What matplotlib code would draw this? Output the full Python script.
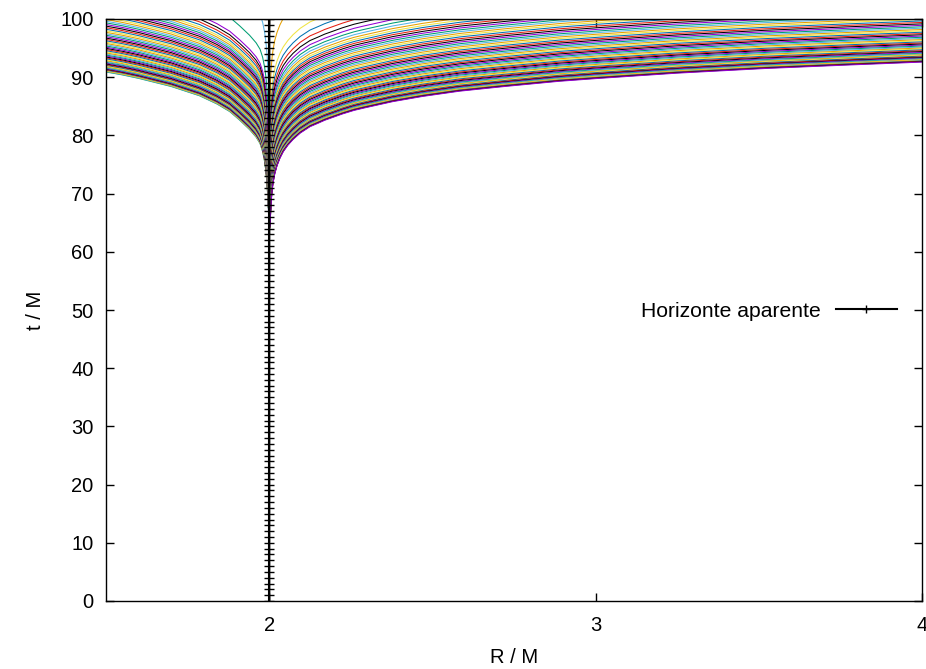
import numpy as np
import matplotlib
matplotlib.use("Agg")
import matplotlib.pyplot as plt

# lowest ray outside the horizon (R > 2)
R_OUT = [2.000001, 2.000003, 2.00001, 2.00003, 2.0001, 2.0003, 2.001, 2.002,
         2.003, 2.004, 2.006, 2.009, 2.012, 2.017, 2.024, 2.033, 2.043, 2.057,
         2.073, 2.095, 2.125, 2.15, 2.17, 2.2, 2.225, 2.26, 2.29, 2.33,
         2.378, 2.47, 2.583, 2.72, 2.888, 3.01, 3.25, 3.52, 3.775, 4.0]
T_OUT = [20.5, 26.5, 33.2, 39.2, 45.8, 51.9, 58.5, 62.3,
         64.5, 66.3, 68.6, 70.6, 71.9, 73.4, 74.8, 76.1, 77.2, 78.3,
         79.3, 80.4, 81.5, 82.1, 82.6, 83.2, 83.7, 84.3, 84.7, 85.2,
         85.8, 86.7, 87.6, 88.4, 89.3, 89.8, 90.7, 91.5, 92.1, 92.6]

# lowest ray inside the horizon (R < 2)
R_IN = [1.5, 1.55, 1.6, 1.65, 1.7, 1.787, 1.84, 1.879, 1.91, 1.94, 1.96,
        1.972, 1.98, 1.986, 1.99, 1.994, 1.997, 1.999, 1.9997, 1.9999,
        1.99997, 1.99999, 1.999997, 1.999999]
T_IN = [90.9, 90.4, 89.8, 89.1, 88.4, 86.8, 85.4, 84.1, 82.6, 81.0, 79.7,
        78.6, 77.2, 75.5, 73.8, 71.2, 67.6, 62.5, 57.0, 51.5,
        46.0, 40.5, 35.0, 29.5]

# shift in t of every ray above the lowest one, bottom ray first
SHIFT_OUT = [0.0, 0.07, 0.14, 0.22, 0.31, 0.40, 0.49, 0.58, 0.69, 0.79,
             0.90, 1.02, 1.14, 1.26, 1.39, 1.52, 1.66, 1.80, 1.95, 2.10,
             2.26, 2.42, 2.58, 2.75, 2.92, 3.10, 3.28, 3.47, 3.66, 3.86,
             4.06, 4.26, 4.47, 4.69, 4.90, 5.13, 5.36, 5.59, 5.82, 6.06,
             6.31, 6.56, 6.81, 7.07, 7.34, 7.61, 7.88, 8.15, 8.44, 8.72,
             9.01, 9.31, 9.61, 9.91, 10.22, 10.53, 10.85, 11.17, 11.50, 11.83,
             12.17, 12.55, 13.0, 13.5, 14.1, 14.8, 15.6, 16.6, 18.0, 22.9]
SHIFT_IN = [0.0, 0.07, 0.14, 0.22, 0.31, 0.40, 0.49, 0.58, 0.69, 0.79,
            0.90, 1.02, 1.14, 1.26, 1.39, 1.52, 1.66, 1.80, 1.95, 2.10,
            2.26, 2.42, 2.58, 2.75, 2.92, 3.10, 3.28, 3.47, 3.66, 3.86,
            4.06, 4.26, 4.47, 4.69, 4.90, 5.13, 5.36, 5.59, 5.82, 6.06,
            6.31, 6.56, 6.81, 7.07, 7.34, 7.61, 7.88, 8.15, 8.44, 8.72,
            9.01, 9.31, 9.61, 9.91, 10.22, 10.53, 10.85, 11.17, 11.5, 11.85,
            12.25, 12.7, 13.2, 13.8, 16.2, 22.2]

HORIZON_T = list(range(0, 101))
HORIZON_R = [2.0] * len(HORIZON_T)
T_START = 64.0  # rays leave the horizon region here

COLORS = ["#9400d3", "#009e73", "#56b4e9", "#e69f00",
          "#f0e442", "#0072b2", "#e51e10", "#000000"]

plt.rcParams["font.family"] = ["Liberation Sans", "DejaVu Sans"]
plt.rcParams["font.size"] = 14.5

fig = plt.figure(figsize=(9.26, 6.69), dpi=100)
ax = fig.add_axes([106 / 926, 1 - 601 / 669, 816 / 926, 582 / 669])

# rays inside the horizon, drawn from the innermost one up
r_in = np.array(R_IN)
t_in = np.array(T_IN)
n = len(SHIFT_IN)
for j, dt in enumerate(SHIFT_IN):
    k = n - j
    t = t_in + dt
    keep = t >= T_START
    ax.plot(r_in[keep], t[keep], color=COLORS[(3 - k) % 8], lw=0.75)

# rays outside, drawn from the one nearest the horizon outwards
r_out = np.array(R_OUT)
t_out = np.array(T_OUT)
n = len(SHIFT_OUT)
for j in range(n - 1, -1, -1):
    k = n - j
    t = t_out + SHIFT_OUT[j]
    keep = t >= T_START
    ax.plot(r_out[keep], t[keep], color=COLORS[(2 + k) % 8], lw=0.75)

ax.plot(HORIZON_R, HORIZON_T, color="black", lw=1.5, marker="+",
        markersize=7, markeredgewidth=1.0, zorder=5,
        label="Horizonte aparente")

ax.set_xlim(1.5, 4)
ax.set_ylim(0, 100)
ax.set_xticks([2, 3, 4])
ax.set_yticks(range(0, 101, 10))
ax.tick_params(direction="in", length=6, width=1, top=True, right=True)
ax.tick_params(axis="y", pad=9)
ax.tick_params(axis="x", pad=11)
for s in ax.spines.values():
    s.set_linewidth(1)
ax.set_xlabel("R / M", labelpad=9)
ax.set_ylabel("t / M", labelpad=11)

ax.legend(loc="center right", bbox_to_anchor=(0.9694, 0.498), frameon=False,
          markerfirst=False, numpoints=1, handlelength=2.9,
          handletextpad=0.72, borderpad=0, borderaxespad=0, markerscale=0.8,
          fontsize=15.2)

fig.savefig("out.png", dpi=100)
